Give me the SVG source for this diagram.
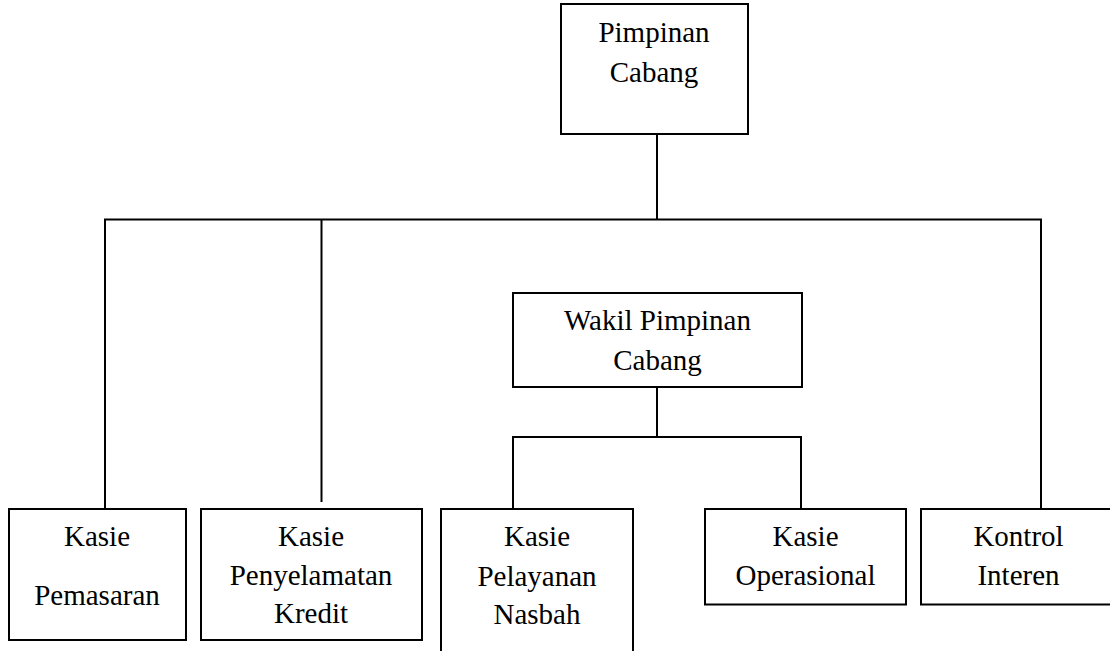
<svg xmlns="http://www.w3.org/2000/svg" width="1110" height="651" viewBox="0 0 1110 651">
<style>
.box{fill:#fff;stroke:#000;stroke-width:2}
.ln{fill:none;stroke:#000;stroke-width:2}
text{font-family:"Liberation Serif","Times New Roman",serif;font-size:29px;fill:#000;text-anchor:middle}
</style>
<rect width="1110" height="651" fill="#fff"/>
<g id="connectors">
<path class="ln" d="M657,124 V219.5"/>
<path class="ln" d="M105,509 V219.5 H1041 V509"/>
<path class="ln" d="M321.5,219.5 V502"/>
<path class="ln" d="M657,387 V437"/>
<path class="ln" d="M513,509 V437 H801 V509"/>
</g>
<g id="pimpinan">
<rect class="box" x="561" y="4" width="187" height="130"/>
<text x="654" y="42">Pimpinan</text>
<text x="654" y="82">Cabang</text>
</g>
<g id="wakil">
<rect class="box" x="513" y="293" width="289" height="94"/>
<text x="657.5" y="330">Wakil Pimpinan</text>
<text x="657.5" y="370">Cabang</text>
</g>
<g id="pemasaran">
<rect class="box" x="9" y="509" width="177" height="131"/>
<text x="97" y="546">Kasie</text>
<text x="97" y="604.5">Pemasaran</text>
</g>
<g id="penyelamatan">
<rect class="box" x="201" y="509" width="221" height="131"/>
<text x="311" y="546">Kasie</text>
<text x="311" y="585">Penyelamatan</text>
<text x="311" y="623">Kredit</text>
</g>
<g id="pelayanan">
<rect class="box" x="441" y="509" width="192" height="160"/>
<text x="537" y="546">Kasie</text>
<text x="537" y="585.5">Pelayanan</text>
<text x="537" y="624">Nasbah</text>
</g>
<g id="operasional">
<rect class="box" x="705" y="509" width="201" height="95.5"/>
<text x="805.5" y="546">Kasie</text>
<text x="805.5" y="585">Operasional</text>
</g>
<g id="kontrol">
<rect class="box" x="921" y="509" width="200" height="95.5"/>
<text x="1018.5" y="546">Kontrol</text>
<text x="1018.5" y="585">Interen</text>
</g>
</svg>
